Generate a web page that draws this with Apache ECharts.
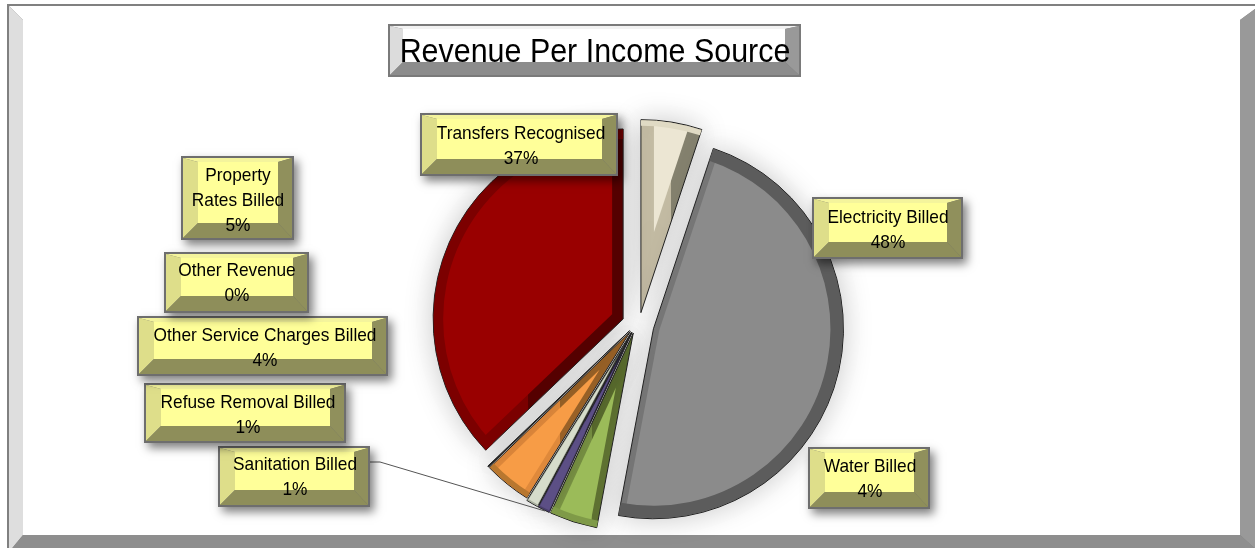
<!DOCTYPE html>
<html>
<head>
<meta charset="utf-8">
<title>Revenue Per Income Source</title>
<style>
html, body { margin: 0; padding: 0; background: #fff; }
#chart { width: 1255px; height: 548px; }
</style>
<script src="https://cdn.jsdelivr.net/npm/echarts@6/dist/echarts.min.js"></script>
</head>
<body>
<div id="chart"></div>
<script>
var chartTitle = 'Revenue Per Income Source';
// clockwise from 12 o'clock
var categories = ['Property Rates Billed', 'Electricity Billed', 'Water Billed', 'Sanitation Billed',
    'Refuse Removal Billed', 'Other Service Charges Billed', 'Other Revenue', 'Transfers Recognised'];
var revenueShare = [5.1, 47.8, 3.9, 1.0, 1.0, 3.9, 0.1, 37.1];

// how each slice is drawn, same order as categories
var sliceLook = [
    { offset: 12, nudge: 3, r: 193, bevel: 6, inset: 13, face: '#ece6d3', ring: '#e0dac4', edgeL: '#c4bca4', edgeR: '#85826f' },
    { offset: 17, nudge: 1, r: 190, bevel: 13, inset: 6, face: '#8b8b8b', ring: '#5c5c5c', edgeL: '#777777', edgeR: '#5c5c5c' },
    { offset: 9, nudge: 0, r: 198, bevel: 7, inset: 7, face: '#9bbb59', ring: '#7f9a48', edgeL: '#7f9a48', edgeR: '#5f7232' },
    { offset: 9, nudge: 0, r: 198, bevel: 2, inset: 1, face: '#5c4f85', ring: '#4a3f6b', edgeL: '#4a3f6b', edgeR: '#2e2745' },
    { offset: 9, nudge: 0, r: 198, bevel: 2, inset: 1, face: '#d6dccb', ring: '#aab09f', edgeL: '#aab09f', edgeR: '#6e7266' },
    { offset: 9, nudge: 0, r: 196, bevel: 6, inset: 6, face: '#f79c46', ring: '#b8772f', edgeL: '#e08a3c', edgeR: '#9a6228' },
    { offset: 9, nudge: 0, r: 196, bevel: 0, inset: 0, face: '#1a1a1a', ring: '#1a1a1a', edgeL: '#1a1a1a', edgeR: '#1a1a1a' },
    { offset: 14, nudge: 0, r: 190, bevel: 10, inset: 11, face: '#990000', ring: '#7c0000', edgeL: '#7c0000', edgeR: '#560000' }
];
var pieCenter = [636, 324.5];

// label boxes, same order as categories
var labelBoxes = [
    { box: [182, 157, 293, 239], tx: 238, ty: 201, wrap: true },
    { box: [813, 198, 962, 258], tx: 888, ty: 230 },
    { box: [809, 448, 929, 508], tx: 870, ty: 479 },
    { box: [219, 447, 369, 506], tx: 295, ty: 477 },
    { box: [145, 384, 345, 442], tx: 248, ty: 415 },
    { box: [138, 317, 387, 375], tx: 265, ty: 348 },
    { box: [165, 253, 308, 312], tx: 237, ty: 283 },
    { box: [421, 114, 617, 175], tx: 521, ty: 146 }
];

var total = 0;
for (var n = 0; n < revenueShare.length; n++) {
    total += revenueShare[n];
}

// one pie with only slice idx showing
function wedge(idx, center, radius, color, z, extra) {
    var data = [];
    for (var i = 0; i < revenueShare.length; i++) {
        var item = { value: revenueShare[i], name: categories[i] };
        if (i === idx) {
            item.itemStyle = Object.assign({ color: color, borderWidth: 0 }, extra || {});
        } else {
            item.itemStyle = { color: 'transparent', borderWidth: 0 };
        }
        data.push(item);
    }
    return {
        type: 'pie',
        center: center,
        radius: radius,
        startAngle: 90,
        z: z,
        silent: true,
        animation: false,
        selectedMode: false,
        emphasis: { disabled: true },
        label: { show: false },
        labelLine: { show: false },
        data: data
    };
}

function buildSeries() {
    var series = [];
    var start = 0;
    for (var i = 0; i < revenueShare.length; i++) {
        var look = sliceLook[i];
        var span = revenueShare[i] / total * 2 * Math.PI;
        var mid = start + span / 2;
        var dx = Math.sin(mid);
        var dy = -Math.cos(mid);
        var apex = [pieCenter[0] + dx * look.offset + look.nudge, pieCenter[1] + dy * look.offset];

        series.push(wedge(i, apex, look.r, {
            type: 'linear', x: 0, y: 0, x2: 1, y2: 0,
            colorStops: [
                { offset: 0, color: look.edgeL },
                { offset: 0.5, color: look.edgeL },
                { offset: 0.5, color: look.edgeR },
                { offset: 1, color: look.edgeR }
            ]
        }, 2, { borderColor: '#222', borderWidth: 1, shadowBlur: 28, shadowColor: 'rgba(0,0,0,0.22)' }));

        if (look.bevel > 0) {
            // face moved along the bisector so its sides stay parallel to the slice sides
            var shift = look.inset / Math.sin(span / 2);
            var faceApex = [apex[0] + dx * shift, apex[1] + dy * shift];
            series.push(wedge(i, faceApex, look.r - shift - 1, look.face, 3));
            series.push(wedge(i, apex, [look.r - look.bevel, look.r - 0.5], look.ring, 4));
        }
        start += span;
    }
    return series;
}

// raised box: 2px border, four facets, flat face
function bevelBox(b, ins, c, z, shadow) {
    var x0 = b[0], y0 = b[1], x1 = b[2], y1 = b[3];
    var ax0 = x0 + 1, ay0 = y0 + 1, ax1 = x1 - 1, ay1 = y1 - 1;
    var fx0 = x0 + ins[0], fy0 = y0 + ins[1], fx1 = x1 - ins[2], fy1 = y1 - ins[3];
    var els = [];
    var border = { type: 'rect', z: z, shape: { x: x0 - 1, y: y0 - 1, width: x1 - x0 + 2, height: y1 - y0 + 2 },
        style: { fill: c.border } };
    if (shadow) {
        border.style.shadowBlur = 9;
        border.style.shadowOffsetX = 4;
        border.style.shadowOffsetY = 5;
        border.style.shadowColor = 'rgba(0,0,0,0.5)';
    }
    els.push(border);
    function facet(points, fill) {
        els.push({ type: 'polygon', z: z, shape: { points: points }, style: { fill: fill } });
    }
    facet([[ax0, ay0], [ax1, ay0], [fx1, fy0], [fx0, fy0]], c.top);
    facet([[ax0, ay0], [fx0, fy0], [fx0, fy1], [ax0, ay1]], c.left);
    facet([[ax1, ay0], [ax1, ay1], [fx1, fy1], [fx1, fy0]], c.right);
    facet([[ax0, ay1], [fx0, fy1], [fx1, fy1], [ax1, ay1]], c.bottom);
    els.push({ type: 'rect', z: z, shape: { x: fx0, y: fy0, width: fx1 - fx0, height: fy1 - fy0 }, style: { fill: c.face } });
    return els;
}

function buildGraphic() {
    var els = [];
    // outer frame, right and bottom run off the page
    els = els.concat(bevelBox([8, 5, 1260, 553], [15, 15, 20, 18],
        { border: '#808080', top: '#ffffff', left: '#dedede', right: '#999999', bottom: '#8e8e8e', face: '#ffffff' }, 0));

    // leader line for Sanitation Billed
    els.push({ type: 'polyline', z: 9, shape: { points: [[369, 462], [380, 462], [545, 511]] },
        style: { stroke: '#555', lineWidth: 1, fill: null } });

    // title
    els = els.concat(bevelBox([389, 25, 800, 76], [14, 4, 15, 14],
        { border: '#7a7a7a', top: '#f2f2f2', left: '#dcdcdc', right: '#999999', bottom: '#8c8c8c', face: '#ffffff' }, 10, false));
    els.push({ type: 'text', z: 11, x: 595, y: 53, scaleX: 0.895, style: { text: chartTitle, align: 'center', verticalAlign: 'middle',
        font: '34px "Liberation Sans", Arial, sans-serif', fill: '#000' } });

    // slice labels
    for (var i = 0; i < categories.length; i++) {
        var lb = labelBoxes[i];
        var name = lb.wrap ? categories[i].replace(' ', '\n') : categories[i];
        els = els.concat(bevelBox(lb.box, [16, 5, 15, 16],
            { border: '#6e6e6e', top: '#f4f49c', left: '#dede8a', right: '#90905c', bottom: '#8e8e5a', face: '#ffff99' }, 10, true));
        els.push({ type: 'text', z: 11, x: lb.tx, y: lb.ty, scaleX: 0.91, style: {
            text: name + '\n' + Math.round(revenueShare[i] / total * 100) + '%',
            align: 'center', verticalAlign: 'middle', lineHeight: 25,
            font: '19px "Liberation Sans", Arial, sans-serif', fill: '#000' } });
    }
    return els;
}

var myChart = echarts.init(document.getElementById('chart'), null, { renderer: 'canvas' });
myChart.setOption({
    backgroundColor: '#fff',
    animation: false,
    tooltip: { show: false },
    legend: { show: false },
    graphic: { elements: buildGraphic() },
    series: buildSeries()
});
</script>
</body>
</html>
